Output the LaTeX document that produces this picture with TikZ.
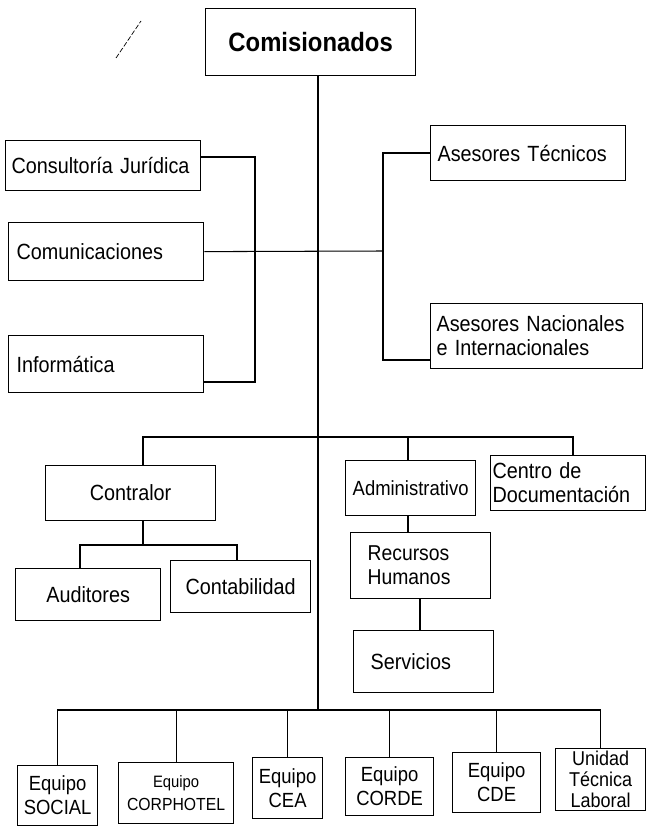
\documentclass[tikz,border=0pt]{standalone}
\usepackage{fontspec}
\setmainfont{Liberation Sans}[FakeStretch=0.9, WordSpace=0.75]
\begin{document}
\begin{tikzpicture}[x=1pt,y=-1pt,
  box/.style={draw, line width=1.25pt, anchor=north west, inner sep=0pt,
    font=\fontsize{22}{24}\selectfont},
  team/.style={box, align=center, font=\fontsize{20.5}{24}\selectfont},
  wire/.style={line width=1.05pt}]
\useasboundingbox (0,0) rectangle (647,837);

% stray pen stroke
\draw[line width=0.7pt, dash pattern=on 5pt off 2pt] (116,58) -- (141,21);

% top
\node[box, minimum width=210, minimum height=67, font=\fontsize{26.5}{28}\selectfont\bfseries]
  (com) at (205,8) {Comisionados};

% staff units on the left
\node[box, minimum width=195, minimum height=50, align=left, text width=183]
  (cj) at (5,140) {Consultoría Jurídica};
\node[box, minimum width=195, minimum height=58, align=left, text width=179]
  (comu) at (8,222) {Comunicaciones};
\node[box, minimum width=195, minimum height=57, align=left, text width=179]
  (inf) at (8,335) {Informática};

% advisers on the right
\node[box, minimum width=195, minimum height=55, align=left, text width=181]
  (at) at (430,125) {Asesores Técnicos};
\node[box, minimum width=212, minimum height=65, align=left, text width=200]
  (an) at (430,303) {Asesores Nacionales\\e Internacionales};

% middle level
\node[box, minimum width=170, minimum height=55] (ctr) at (45,465) {Contralor};
\node[box, minimum width=130, minimum height=55, font=\fontsize{20.5}{24}\selectfont]
  (adm) at (345,460) {Administrativo};
\node[box, minimum width=155, minimum height=55, align=left, text width=151]
  (cdoc) at (490,455) {Centro de\\Documentación};
\node[box, minimum width=145, minimum height=52] (aud) at (15,568) {Auditores};
\node[box, minimum width=140, minimum height=52] (cont) at (170,560) {Contabilidad};
\node[box, minimum width=140, minimum height=66, align=left, text width=106,
  font=\fontsize{21.5}{24}\selectfont]
  (rrhh) at (350,532) {Recursos\\Humanos};
\node[box, minimum width=140, minimum height=62, align=left, text width=106]
  (serv) at (353,630) {Servicios};

% teams
\node[team, minimum width=80, minimum height=60] (soc) at (17,765) {Equipo\\SOCIAL};
\node[team, minimum width=115, minimum height=61, font=\fontsize{17.5}{23}\selectfont]
  (corp) at (118,762) {{\fontsize{16.5}{23}\selectfont Equipo}\\CORPHOTEL};
\node[team, minimum width=70, minimum height=61] (cea) at (252,757) {Equipo\\CEA};
\node[team, minimum width=88, minimum height=58] (corde) at (345,757) {Equipo\\CORDE};
\node[team, minimum width=88, minimum height=60] (cde) at (452,752) {Equipo\\CDE};
\node[team, minimum width=90, minimum height=62, font=\fontsize{20}{21}\selectfont]
  (uni) at (555,748) {Unidad\\Técnica\\Laboral};

% junction points
\coordinate (trunk) at (318,437);
\coordinate (bb) at (318,710);
\coordinate (lbtop) at (255,157);
\coordinate (lbbot) at (255,382);
\coordinate (rbtop) at (383,153);
\coordinate (rbbot) at (383,360);
\coordinate (rbmid) at (383,251);
\coordinate (ctrx) at (143,437);
\coordinate (admx) at (408,437);
\coordinate (cdx) at (573,437);
\coordinate (cbus) at (143,545);
\coordinate (audx) at (80,545);
\coordinate (contx) at (237,545);
\coordinate (rrx) at (420,600);

% trunk
\draw[wire] (com.south -| trunk) -- (bb);

% left bracket
\draw[wire] (cj.east |- lbtop) -- (lbtop) -- (lbbot) -- (inf.east |- lbbot);
\draw[wire] (comu.east) -- (rbmid);
% right bracket
\draw[wire] (at.west |- rbtop) -- (rbtop) -- (rbbot) -- (an.west |- rbbot);

% middle bus
\draw[wire] (ctr.north -| ctrx) -- (ctrx) -- (cdx) -- (cdoc.north -| cdx);
\draw[wire] (admx) -- (adm.north -| admx);
\draw[wire] (ctr.south -| cbus) -- (cbus);
\draw[wire] (aud.north -| audx) -- (audx) -- (contx) -- (cont.north -| contx);
\draw[wire] (adm.south -| admx) -- (rrhh.north -| admx);
\draw[wire] (rrhh.south -| rrx) -- (serv.north -| rrx);

% bottom bus
\draw[wire] (soc.north) -- (soc.north |- bb) -- (uni.north |- bb) -- (uni.north);
\foreach \n in {corp,cea,corde,cde} \draw[wire] (\n.north) -- (\n.north |- bb);
\end{tikzpicture}
\end{document}
